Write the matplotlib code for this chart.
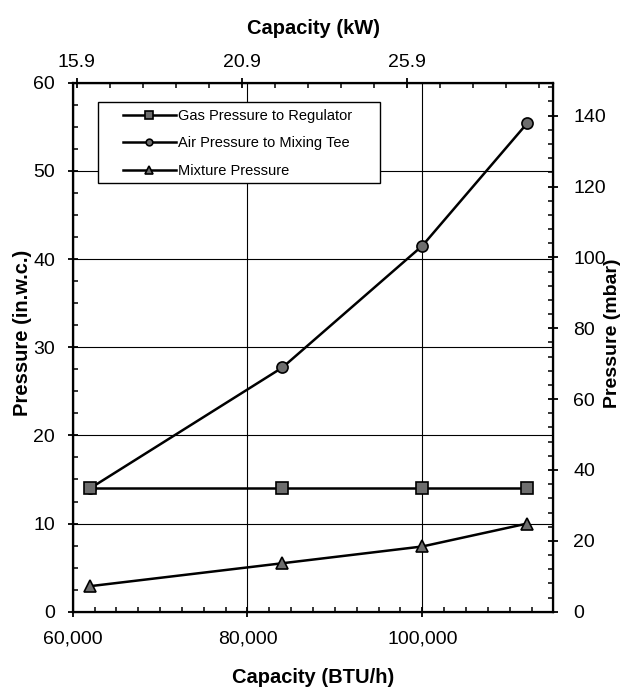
"""Burner pressures versus firing capacity, with metric twin axes."""

import matplotlib

matplotlib.use("Agg")
import matplotlib.pyplot as plt
from matplotlib.patches import Rectangle
from matplotlib.ticker import FuncFormatter, MultipleLocator, FixedLocator


CAPACITY_BTUH = [62000, 84000, 100000, 112000]
GAS_PRESSURE = [14.0, 14.0, 14.0, 14.0]
AIR_PRESSURE = [14.0, 27.7, 41.5, 55.4]
MIXTURE_PRESSURE = [2.9, 5.5, 7.4, 10.0]

SERIES_LABELS = [
    "Gas Pressure to Regulator",
    "Air Pressure to Mixing Tee",
    "Mixture Pressure",
]
KW_TICKS = [15.9, 20.9, 25.9]

INWC_TO_MBAR = 2.4884
OUTPUT_PATH = "out.png"


def style_ticks(axis_obj, pad):
    axis_obj.tick_params(which="major", direction="inout", length=7.5,
                         width=1.3, labelsize=14, pad=pad)
    axis_obj.tick_params(which="minor", direction="in", length=3.5, width=1.1)


def main():
    plt.rcParams["font.family"] = ["Liberation Sans", "DejaVu Sans"]

    fig = plt.figure(figsize=(6.3, 6.92), dpi=100)
    ax = fig.add_axes([0.1154, 0.116, 0.763, 0.7645])

    line_kw = dict(color="black", lw=1.8, markeredgecolor="black",
                   markerfacecolor="#6e6e6e", markeredgewidth=1.2)
    ax.plot(CAPACITY_BTUH, GAS_PRESSURE, marker="s", ms=8.5,
            label=SERIES_LABELS[0], zorder=5, **line_kw)
    ax.plot(CAPACITY_BTUH, AIR_PRESSURE, marker="o", ms=8,
            label=SERIES_LABELS[1], zorder=4, **line_kw)
    ax.plot(CAPACITY_BTUH, MIXTURE_PRESSURE, marker="^", ms=9,
            label=SERIES_LABELS[2], zorder=4, **line_kw)

    ax.set_xlim(60000, 115000)
    ax.set_ylim(0, 60)
    ax.xaxis.set_major_locator(MultipleLocator(20000))
    ax.xaxis.set_minor_locator(MultipleLocator(2500))
    ax.yaxis.set_major_locator(MultipleLocator(10))
    ax.yaxis.set_minor_locator(MultipleLocator(2.5))
    ax.xaxis.set_major_formatter(FuncFormatter(lambda v, _: f"{v:,.0f}"))
    ax.grid(which="major", color="black", lw=0.8, zorder=1)
    style_ticks(ax, pad=9)
    ax.tick_params(axis="x", which="major", pad=10)
    for spine in ax.spines.values():
        spine.set_linewidth(1.6)

    ax.set_xlabel("Capacity (BTU/h)", fontsize=14.5, fontweight="bold")
    ax.set_ylabel("Pressure (in.w.c.)", fontsize=14.5, fontweight="bold")
    ax.xaxis.set_label_coords(0.5, -0.1064)
    ax.yaxis.set_label_coords(-0.0847, 0.527)

    # right axis in mbar
    ax_r = ax.twinx()
    ax_r.set_ylim(0, 60 * INWC_TO_MBAR)
    ax_r.yaxis.set_major_locator(MultipleLocator(20))
    ax_r.yaxis.set_minor_locator(MultipleLocator(4))
    style_ticks(ax_r, pad=10.5)
    ax_r.set_ylabel("Pressure (mbar)", fontsize=14, fontweight="bold")
    ax_r.yaxis.set_label_coords(1.1055, 0.527)

    # top axis in kW
    ax_t = ax.twiny()
    ax_t.set_xlim(15.78, 30.34)
    ax_t.xaxis.set_major_locator(FixedLocator(KW_TICKS))
    ax_t.xaxis.set_minor_locator(MultipleLocator(1.0, offset=0.9))
    ax_t.xaxis.set_major_formatter(FuncFormatter(lambda v, _: f"{v:.1f}"))
    style_ticks(ax_t, pad=5)
    ax_t.set_xlabel("Capacity (kW)", fontsize=14.5, fontweight="bold")
    ax_t.xaxis.set_label_coords(0.5, 1.092)

    # legend box, white so it hides the grid behind it
    ax.add_patch(Rectangle((0.053, 0.81), 0.586, 0.153, transform=ax.transAxes,
                           facecolor="white", edgecolor="black", lw=1.0,
                           zorder=6))
    leg = ax.legend(loc="upper left", bbox_to_anchor=(0.105, 0.951),
                    frameon=False, fontsize=10.5, borderpad=0,
                    borderaxespad=0, handlelength=3.6, handletextpad=0.15,
                    labelspacing=0.95, markerscale=0.6)
    leg.set_zorder(7)

    fig.savefig(OUTPUT_PATH, dpi=100)
    plt.close(fig)


if __name__ == "__main__":
    main()
